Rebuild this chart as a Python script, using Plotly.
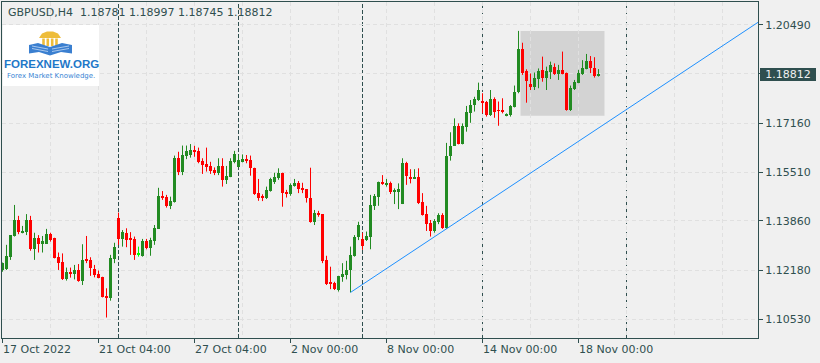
import plotly.graph_objects as go

# ---------------- data ----------------
symbol_title = "GBPUSD,H4"
opens = [1.1220,1.1223,1.1265,1.1335,1.1389,1.1346,1.1350,1.1389,1.1291,1.1327,
         1.1308,1.1308,1.1341,1.1327,1.1265,1.1248,1.1189,1.1213,1.1206,1.1220,
         1.1184,1.1256,1.1254,1.1223,1.1206,1.1197,1.1132,1.1126,1.1257,1.1396,
         1.1325,1.1344,1.1329,1.1325,1.1273,1.1268,1.1318,1.1294,1.1318,1.1359,
         1.1470,1.1466,1.1437,1.1451,1.1600,1.1551,1.1606,1.1609,1.1626,1.1623,
         1.1589,1.1579,1.1572,1.1558,1.1549,1.1573,1.1525,1.1536,1.1586,1.1569,
         1.1586,1.1592,1.1592,1.1566,1.1481,1.1468,1.1463,1.1488,1.1519,1.1530,
         1.1549,1.1485,1.1477,1.1505,1.1513,1.1498,1.1493,1.1465,1.1383,1.1414,
         1.1409,1.1254,1.1177,1.1175,1.1152,1.1197,1.1203,1.1220,1.1267,1.1331,
         1.1324,1.1321,1.1333,1.1437,1.1468,1.1517,1.1510,1.1515,1.1485,1.1485,
         1.1443,1.1581,1.1536,1.1528,1.1536,1.1451,1.1409,1.1380,1.1352,1.1381,
         1.1406,1.1361,1.1606,1.1641,1.1707,1.1646,1.1705,1.1752,1.1778,1.1795,
         1.1792,1.1790,1.1744,1.1799,1.1761,1.1759,1.1743,1.1743,1.1773,1.1823,
         1.1968,1.1894,1.1849,1.1840,1.1866,1.1897,1.1871,1.1889,1.1908,1.1883,
         1.1897,1.1885,1.1761,1.1832,1.1854,1.1883,1.1900,1.1927,1.1905,1.18781]
highs = [1.1245,1.1305,1.1338,1.1440,1.1403,1.1369,1.1409,1.1403,1.1346,1.1338,
         1.1335,1.1359,1.1346,1.1329,1.1279,1.1276,1.1228,1.1228,1.1237,1.1240,
         1.1307,1.1335,1.1263,1.1237,1.1218,1.1197,1.1158,1.1271,1.1312,1.1414,
         1.1355,1.1361,1.1348,1.1333,1.1299,1.1325,1.1325,1.1329,1.1372,1.1498,
         1.1487,1.1474,1.1468,1.1607,1.1620,1.1641,1.1641,1.1646,1.1640,1.1634,
         1.1598,1.1634,1.1586,1.1567,1.1598,1.1598,1.1572,1.1598,1.1623,1.1609,
         1.1611,1.1609,1.1607,1.1566,1.1528,1.1476,1.1502,1.1532,1.1549,1.1564,
         1.1549,1.1491,1.1513,1.1528,1.1521,1.1515,1.1494,1.1566,1.1423,1.1420,
         1.1409,1.1268,1.1231,1.1180,1.1200,1.1243,1.1251,1.1299,1.1338,1.1383,
         1.1346,1.1350,1.1474,1.1477,1.1519,1.1541,1.1528,1.1519,1.1496,1.1513,
         1.1598,1.1586,1.1561,1.1561,1.1564,1.1480,1.1437,1.1389,1.1392,1.1412,
         1.1412,1.1650,1.1686,1.1733,1.1716,1.1716,1.1775,1.1795,1.1806,1.1854,
         1.1818,1.1792,1.1829,1.1804,1.1790,1.1801,1.1750,1.1778,1.1844,1.2029,
         1.1989,1.1899,1.1885,1.1888,1.1902,1.1942,1.1908,1.1925,1.1919,1.1914,
         1.1959,1.1888,1.1844,1.1863,1.1897,1.1930,1.1951,1.1944,1.1940,1.18997]
lows = [1.1214,1.1220,1.1254,1.1333,1.1341,1.1344,1.1338,1.1285,1.1254,1.1279,
        1.1279,1.1308,1.1316,1.1259,1.1220,1.1186,1.1184,1.1194,1.1188,1.1180,
        1.1169,1.1243,1.1200,1.1195,1.1192,1.1127,1.1059,1.1116,1.1243,1.1305,
        1.1299,1.1297,1.1271,1.1254,1.1265,1.1265,1.1290,1.1268,1.1305,1.1359,
        1.1457,1.1431,1.1426,1.1448,1.1541,1.1541,1.1595,1.1600,1.1603,1.1581,
        1.1545,1.1553,1.1545,1.1541,1.1541,1.1502,1.1511,1.1534,1.1581,1.1567,
        1.1584,1.1581,1.1539,1.1474,1.1454,1.1453,1.1460,1.1485,1.1511,1.1525,
        1.1434,1.1465,1.1471,1.1502,1.1480,1.1480,1.1448,1.1380,1.1372,1.1400,
        1.1243,1.1169,1.1155,1.1152,1.1147,1.1180,1.1188,1.1144,1.1265,1.1321,
        1.1288,1.1318,1.1290,1.1423,1.1437,1.1508,1.1502,1.1477,1.1443,1.1426,
        1.1443,1.1508,1.1513,1.1528,1.1443,1.1404,1.1352,1.1333,1.1346,1.1375,
        1.1359,1.1359,1.1590,1.1640,1.1645,1.1645,1.1688,1.1718,1.1756,1.1792,
        1.1750,1.1739,1.1741,1.1735,1.1708,1.1750,1.1740,1.1739,1.1770,1.1818,
        1.1880,1.1786,1.1829,1.1829,1.1835,1.1857,1.1829,1.1866,1.1880,1.1863,
        1.1882,1.1759,1.1758,1.1829,1.1852,1.1880,1.1899,1.1886,1.1871,1.18745]
closes = [1.1243,1.1267,1.1338,1.1389,1.1350,1.1353,1.1389,1.1291,1.1327,1.1308,
          1.1318,1.1341,1.1321,1.1261,1.1245,1.1189,1.1212,1.1206,1.1220,1.1184,
          1.1254,1.1251,1.1228,1.1203,1.1194,1.1130,1.1126,1.1260,1.1299,1.1325,
          1.1348,1.1321,1.1321,1.1271,1.1273,1.1318,1.1295,1.1321,1.1363,1.1470,
          1.1463,1.1437,1.1453,1.1600,1.1551,1.1609,1.1623,1.1626,1.1620,1.1584,
          1.1575,1.1567,1.1556,1.1549,1.1573,1.1525,1.1538,1.1589,1.1612,1.1592,
          1.1595,1.1590,1.1564,1.1477,1.1465,1.1465,1.1491,1.1527,1.1536,1.1549,
          1.1481,1.1477,1.1508,1.1513,1.1494,1.1491,1.1463,1.1383,1.1412,1.1406,
          1.1251,1.1173,1.1173,1.1155,1.1200,1.1206,1.1220,1.1271,1.1333,1.1372,
          1.1302,1.1335,1.1440,1.1470,1.1519,1.1510,1.1515,1.1485,1.1491,1.1493,
          1.1581,1.1538,1.1528,1.1536,1.1448,1.1406,1.1376,1.1352,1.1387,1.1406,
          1.1361,1.1606,1.1641,1.1707,1.1646,1.1707,1.1756,1.1778,1.1799,1.1829,
          1.1787,1.1744,1.1799,1.1754,1.1758,1.1758,1.1748,1.1775,1.1823,1.1968,
          1.1888,1.1860,1.1840,1.1869,1.1893,1.1871,1.1893,1.1914,1.1883,1.1897,
          1.1883,1.1761,1.1835,1.1857,1.1885,1.1905,1.1928,1.1905,1.1878,1.18812]

x_tick_pos = [0, 24, 48, 72, 96, 120, 144]
x_tick_labels = ["17 Oct 2022", "21 Oct 04:00", "27 Oct 04:00", "2 Nov 00:00",
                 "8 Nov 00:00", "14 Nov 00:00", "18 Nov 00:00"]
week_separators = [29, 59, 90, 120, 156]
price_ticks = [1.20490, 1.18840, 1.17160, 1.15510, 1.13860, 1.12180, 1.10530]
price_tick_text = ["1.20490", "", "1.17160", "1.15510", "1.13860", "1.12180", "1.10530"]
last_price = 1.18812
rect_time = [129.5, 150.5]
rect_price = [1.17421, 1.20287]
trend_time = [87, 188.875]
trend_price = [1.1144, 1.2058]
x_range = [-0.125, 188.875]
y_range = [1.09897, 1.21268]

# ---------------- styling ----------------
BG = "#f0f0f0"
FG = "#2f4f4f"
GRID = "#e0e0e0"
UP = "#228b22"
DOWN = "#ff0000"
DOJI = "#00ff00"
FONT = "DejaVu Sans"

W, H = 820, 363
ML, MR, MT, MB = 2, 62, 2, 25
PW, PH = W - ML - MR, H - MT - MB


def px(x):
    return (x - ML) / PW


def py(y):
    return (H - MB - y) / PH


fig = go.Figure()

groups = {"up": [], "down": [], "doji": []}
for i, (o, h, l, c) in enumerate(zip(opens, highs, lows, closes)):
    if c > o:
        groups["up"].append(i)
    elif c < o:
        groups["down"].append(i)
    else:
        groups["doji"].append(i)

colors = {"up": UP, "down": DOWN, "doji": DOJI}
min_body = 0.0003
for key, idxs in groups.items():
    if not idxs:
        continue
    col = colors[key]
    wx, wy = [], []
    for i in idxs:
        wx += [i, i, None]
        wy += [lows[i], highs[i], None]
    fig.add_trace(go.Scatter(x=wx, y=wy, mode="lines",
                             line=dict(color=col, width=1), hoverinfo="skip",
                             showlegend=False))
    bases, heights = [], []
    for i in idxs:
        lo_b = min(opens[i], closes[i])
        hgt = abs(closes[i] - opens[i])
        if hgt < min_body:
            lo_b -= (min_body - hgt) / 2
            hgt = min_body
        bases.append(lo_b)
        heights.append(hgt)
    fig.add_trace(go.Bar(x=idxs, y=heights, base=bases, width=0.75,
                         marker=dict(color=col, line=dict(width=0)),
                         showlegend=False, hoverinfo="skip"))

# trend line
fig.add_trace(go.Scatter(x=trend_time, y=trend_price, mode="lines",
                         line=dict(color="#1e90ff", width=1),
                         showlegend=False, hoverinfo="skip"))

shapes = []
# rectangle object
shapes.append(dict(type="rect", xref="x", yref="y", layer="below",
                   x0=rect_time[0], x1=rect_time[1], y0=rect_price[0], y1=rect_price[1],
                   fillcolor="#d3d3d3", line=dict(width=0)))
# week separators
for s in week_separators:
    shapes.append(dict(type="line", xref="x", yref="paper", layer="below",
                       x0=s, x1=s, y0=0, y1=1,
                       line=dict(color=FG, width=1, dash="4px,2px")))

# logo (drawn)
shapes.append(dict(type="rect", xref="paper", yref="paper", layer="above",
                   x0=px(3), x1=px(99), y0=py(86), y1=py(25),
                   fillcolor="white", line=dict(width=0)))


def path(points):
    s = "M " + " L ".join(f"{px(a):.5f},{py(b):.5f}" for a, b in points) + " Z"
    return s


gold = "#eebd3a"
blue = "#3a7fd0"
shapes.append(dict(type="path", xref="paper", yref="paper", layer="above",
                   path=path([(39, 38), (42, 33.5), (47, 31.5), (53, 31.5), (58, 33.5), (61, 38)]),
                   fillcolor=gold, line=dict(width=0)))
for cx in (43.5, 47.8, 52.2, 56.5):
    shapes.append(dict(type="rect", xref="paper", yref="paper", layer="above",
                       x0=px(cx - 1.3), x1=px(cx + 1.3), y0=py(46), y1=py(38.5),
                       fillcolor=gold, line=dict(width=0)))
shapes.append(dict(type="path", xref="paper", yref="paper", layer="above",
                   path=path([(29, 45), (38, 43), (50, 47), (50, 55.5), (39, 52), (29, 53.5)]),
                   fillcolor=blue, line=dict(width=0)))
shapes.append(dict(type="path", xref="paper", yref="paper", layer="above",
                   path=path([(72, 45), (62, 43), (50, 47), (50, 55.5), (61, 52), (72, 53.5)]),
                   fillcolor=blue, line=dict(width=0)))
for yy in (47.5, 50):
    shapes.append(dict(type="line", xref="paper", yref="paper", layer="above",
                       x0=px(32), x1=px(48), y0=py(yy - 1.5), y1=py(yy + 1.5),
                       line=dict(color="#a9c8ee", width=1)))
    shapes.append(dict(type="line", xref="paper", yref="paper", layer="above",
                       x0=px(52), x1=px(69), y0=py(yy + 1.5), y1=py(yy - 1.5),
                       line=dict(color="#a9c8ee", width=1)))

annotations = []
annotations.append(dict(xref="paper", yref="paper", x=px(51), y=py(63.5),
                        text="<b>FOREXNEW.ORG</b>", showarrow=False,
                        xanchor="center", yanchor="middle",
                        font=dict(family="Liberation Sans", size=11.5, color="#1f78c8")))
annotations.append(dict(xref="paper", yref="paper", x=px(51), y=py(76),
                        text="Forex Market Knowledge.", showarrow=False,
                        xanchor="center", yanchor="middle",
                        font=dict(family=FONT, size=7, color="#3a86d4")))

# header text
header = "%s  %.5f %.5f %.5f %.5f" % (symbol_title, opens[-1], highs[-1], lows[-1], closes[-1])
annotations.append(dict(xref="paper", yref="paper", x=px(6), y=py(13),
                        text=header, showarrow=False, xanchor="left", yanchor="middle",
                        font=dict(family=FONT, size=11, color=FG)))

# x tick labels (left aligned like the terminal)
for pos, lab in zip(x_tick_pos, x_tick_labels):
    annotations.append(dict(xref="x", yref="paper", x=pos, y=0, text=lab,
                            showarrow=False, xanchor="left", yanchor="top",
                            xshift=-2, yshift=-3,
                            font=dict(family=FONT, size=11, color=FG)))

# current price label
annotations.append(dict(xref="paper", yref="y", x=1, y=last_price,
                        text="%.5f" % last_price, showarrow=False,
                        xanchor="left", yanchor="middle", xshift=2,
                        width=56, height=13, borderpad=0, borderwidth=0,
                        bgcolor=FG, font=dict(family=FONT, size=11, color="#f0f0f0")))

fig.update_layout(
    width=W, height=H,
    margin=dict(l=ML, r=MR, t=MT, b=MB),
    paper_bgcolor=BG, plot_bgcolor=BG,
    barmode="overlay", bargap=0,
    showlegend=False,
    shapes=shapes, annotations=annotations,
    xaxis=dict(range=x_range, tickvals=x_tick_pos, showticklabels=False,
               ticks="outside", ticklen=4, tickcolor=FG,
               showgrid=True, gridcolor=GRID, griddash="4px,3px", gridwidth=1,
               minor=dict(tick0=0, dtick=12, showgrid=True, gridcolor=GRID,
                          griddash="4px,3px", ticks=""),
               showline=True, linecolor=FG, linewidth=1, mirror=True,
               zeroline=False, fixedrange=True),
    yaxis=dict(range=y_range, side="right", tickvals=price_ticks,
               ticktext=price_tick_text, ticks="outside", ticklen=4, tickcolor=FG,
               tickfont=dict(family=FONT, size=11, color=FG),
               showgrid=True, gridcolor=GRID, griddash="4px,3px", gridwidth=1,
               showline=True, linecolor=FG, linewidth=1, mirror=True,
               zeroline=False, fixedrange=True),
)

fig.write_html("out.html")
